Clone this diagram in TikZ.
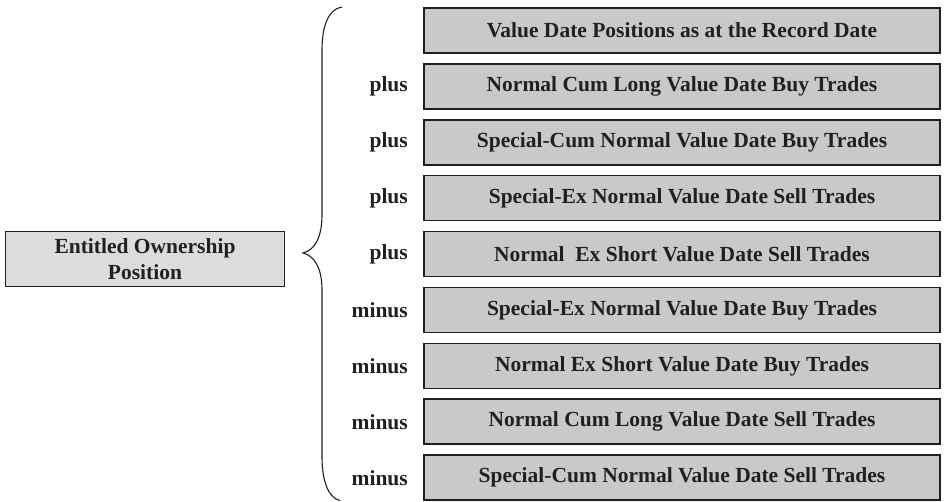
\documentclass[tikz,border=0pt]{standalone}
\usepackage{fontspec}
\setmainfont{Liberation Serif}
\definecolor{ink}{HTML}{231F20}
\definecolor{boxfill}{HTML}{C9C9CA}
\definecolor{leftfill}{HTML}{DCDCDD}
\begin{document}
\begin{tikzpicture}[x=1pt,y=1pt,
  rbox/.style={draw=ink,line width=1.6pt,fill=boxfill,minimum width=516pt,minimum height=45pt,inner sep=0pt,
    font=\fontsize{21.5}{24}\selectfont\bfseries,text=ink},
  lbox/.style={draw=ink,line width=1.6pt,fill=leftfill,minimum width=279pt,minimum height=55pt,inner sep=0pt,
    align=center,font=\fontsize{21.5}{26}\selectfont\bfseries,text=ink},
  sign/.style={anchor=east,font=\fontsize{21.5}{24}\selectfont\bfseries,text=ink,inner sep=0pt}]
\useasboundingbox (0,0) rectangle (947,502);
\foreach \i/\t/\s in {
  1/{Value Date Positions as at the Record Date}/{},
  2/{Normal Cum Long Value Date Buy Trades}/plus,
  3/{Special-Cum Normal Value Date Buy Trades}/plus,
  4/{Special-Ex Normal Value Date Sell Trades}/plus,
  5/{Normal~ Ex Short Value Date Sell Trades}/plus,
  6/{Special-Ex Normal Value Date Buy Trades}/minus,
  7/{Normal Ex Short Value Date Buy Trades}/minus,
  8/{Normal Cum Long Value Date Sell Trades}/minus,
  9/{Special-Cum Normal Value Date Sell Trades}/minus}{
  \node[rbox] (b\i) at (682,{502-30.5-55.9*(\i-1)}) {\t};
  \node[sign] (s\i) at (408,{502-30.5-55.9*(\i-1)}) {\s};
}
\node[lbox] (left) at (145,243) {Entitled Ownership\\Position};
\coordinate (btop) at (342,495);
\coordinate (btip) at (303,249);
\coordinate (bbot) at (340,1.5);
\draw[ink,line width=1.1pt] (btop) .. controls (328,493) and (322,475) .. (322,452)
  -- (322,287) .. controls (322,265) and (315,252) .. (btip)
  .. controls (315,246) and (322,233) .. (322,212)
  -- (322,45) .. controls (322,22) and (328,4) .. (bbot);
\end{tikzpicture}
\end{document}
